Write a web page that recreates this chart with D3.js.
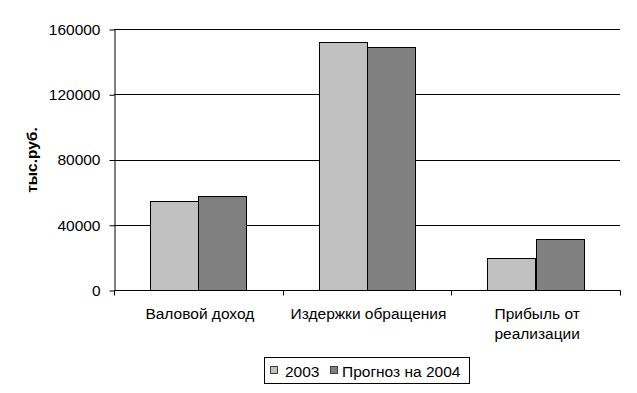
<!DOCTYPE html>
<html><head><meta charset="utf-8">
<script src="https://cdn.jsdelivr.net/npm/d3@7"></script>
<style>body{margin:0;background:#fff;} text{font-family:"Liberation Sans",Arial,sans-serif;}</style>
</head><body>
<svg id="c" width="637" height="393"></svg>
<script>
const categories = [["Валовой доход"], ["Издержки обращения"], ["Прибыль от", "реализации"]];
const seriesNames = ["2003", "Прогноз на 2004"];
const values2003 = [54400, 152000, 19400];
const values2004 = [57600, 148800, 31100];
const yTicks = [0, 40000, 80000, 120000, 160000];
const colors = ["#c0c0c0", "#808080"];

const FS = 15.5;
const svg = d3.select("#c");
const pL = 114, pR = 620, pT = 29, pB = 290;
const x = d3.scaleBand().domain(d3.range(categories.length)).range([pL, pR]).paddingInner(0).paddingOuter(0);
const bw = x.bandwidth() / 3.5;
const y = d3.scaleLinear().domain([0, 160000]).range([pB, pT]);

// gridlines
svg.append("g").selectAll("line").data(yTicks.slice(1)).join("line")
  .attr("x1", pL).attr("x2", pR)
  .attr("y1", d => Math.round(y(d)) + 0.5).attr("y2", d => Math.round(y(d)) + 0.5)
  .attr("stroke", "#000").attr("stroke-width", 1);

// bars
const series = [values2003, values2004];
series.forEach((vals, s) => {
  svg.append("g").selectAll("rect").data(vals).join("rect")
    .attr("x", (d, i) => Math.round(x(i) + bw * 0.75 + s * bw) + 0.5)
    .attr("width", Math.round(bw))
    .attr("y", d => Math.round(y(d)) + 0.5)
    .attr("height", d => Math.round(pB - y(d)))
    .attr("fill", colors[s]).attr("stroke", "#000").attr("stroke-width", 1);
});

// y axis
const yAxis = d3.axisLeft(y).tickValues(yTicks).tickSize(5).tickSizeOuter(0).tickFormat(d3.format("d"));
const gy = svg.append("g").attr("transform", `translate(${pL + 0.5},0.5)`).call(yAxis)
  .attr("font-family", "Liberation Sans, Arial, sans-serif").attr("font-size", FS);
gy.select(".domain").attr("stroke", "#000");
gy.selectAll(".tick line").attr("stroke", "#000");
gy.selectAll(".tick text").attr("fill", "#000").attr("x", -14);

// x axis
const gx = svg.append("g").attr("transform", `translate(0.5,${pB + 0.5})`);
gx.append("line").attr("x1", pL).attr("x2", pR).attr("stroke", "#000");
const bounds = d3.range(categories.length + 1).map(i => i < categories.length ? x(i) : pR);
gx.selectAll(".tk").data(bounds).join("line").attr("class", "tk")
  .attr("x1", d => Math.round(d)).attr("x2", d => Math.round(d)).attr("y1", 0).attr("y2", 5).attr("stroke", "#000");
const lbl = gx.selectAll(".lbl").data(categories).join("text").attr("class", "lbl")
  .attr("x", (d, i) => x(i) + x.bandwidth() / 2 + 1).attr("y", 28)
  .attr("text-anchor", "middle").attr("font-size", FS).attr("fill", "#000");
lbl.each(function(d) {
  const t = d3.select(this);
  t.text(null);
  d.forEach((line, k) => t.append("tspan").attr("x", t.attr("x")).attr("dy", k === 0 ? 0 : 20).text(line));
});

// y axis title
svg.append("text").attr("transform", "translate(37,160) rotate(-90)")
  .attr("text-anchor", "middle").attr("font-size", FS).attr("font-weight", "bold").text("тыс.руб.");

// legend
const lg = svg.append("g");
lg.append("rect").attr("x", 264.5).attr("y", 357.5).attr("width", 205).attr("height", 26)
  .attr("fill", "#fff").attr("stroke", "#000");
const items = [{x: 270, tx: 285, name: seriesNames[0]}, {x: 330, tx: 342, name: seriesNames[1]}];
items.forEach((it, s) => {
  lg.append("rect").attr("x", it.x + 0.5).attr("y", 366.5).attr("width", 7).attr("height", 7)
    .attr("fill", colors[s]).attr("stroke", "#404040");
  lg.append("text").attr("x", it.tx).attr("y", 377).attr("font-size", FS).attr("fill", "#000").text(it.name);
});
</script>
</body></html>
